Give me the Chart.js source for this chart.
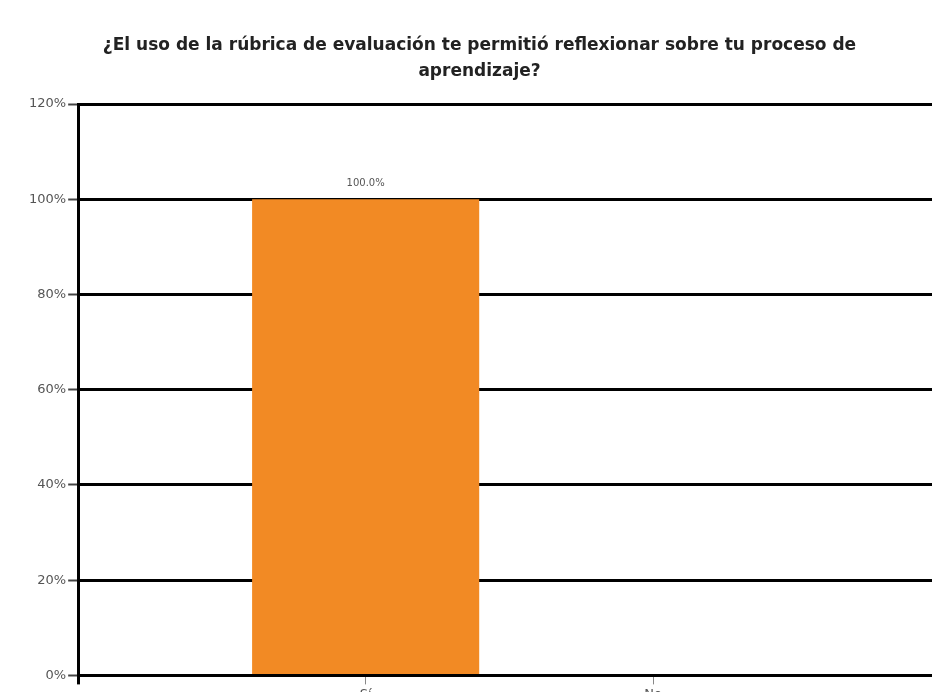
<!DOCTYPE html>
<html>
<head>
<meta charset="utf-8">
<script src="https://cdn.jsdelivr.net/npm/chart.js@4"></script>
<style>
  html, body { margin: 0; padding: 0; background: #fff; overflow: hidden; }
  #wrap { width: 932px; height: 704px; }
</style>
</head>
<body>
<div id="wrap"><canvas id="rubricBar" width="932" height="704"></canvas></div>
<script>
// Survey answers and their share of responses (%)
const categories = ['Sí', 'No'];
const percentages = [100, 0];
const yTicks = [0, 20, 40, 60, 80, 100, 120];
const titleLines = [
  '¿El uso de la rúbrica de evaluación te permitió reflexionar sobre tu proceso de',
  'aprendizaje?'
];

const rubricBarEl = document.getElementById('rubricBar');

// writes "100.0%" above every bar that has a value
const barValueLabels = {
  id: 'barValueLabels',
  afterDatasetsDraw(chart) {
    const ctx = chart.ctx;
    const meta = chart.getDatasetMeta(0);
    ctx.save();
    ctx.font = '10px "DejaVu Sans", Arial, sans-serif';
    ctx.fillStyle = '#555';
    ctx.textAlign = 'center';
    ctx.textBaseline = 'bottom';
    meta.data.forEach((bar, i) => {
      const v = percentages[i];
      if (v > 0) ctx.fillText(v.toFixed(1) + '%', bar.x, bar.y - 11);
    });
    ctx.restore();
  }
};

new Chart(rubricBarEl, {
  type: 'bar',
  data: {
    datasets: [{
      data: percentages.map((v, i) => ({ x: i + 1, y: v })),
      backgroundColor: '#F28A24',
      borderWidth: 0,
      barPercentage: 1,
      categoryPercentage: 0.79
    }]
  },
  plugins: [barValueLabels],
  options: {
    responsive: false,
    animation: false,
    layout: { padding: { left: 27, right: 0, top: 0, bottom: 0 } },
    plugins: {
      legend: { display: false },
      tooltip: { enabled: false },
      title: {
        display: true,
        text: titleLines,
        color: '#222',
        font: { family: '"DejaVu Sans", Arial, sans-serif', size: 17, weight: 'bold', lineHeight: 1.5 },
        padding: { top: 33, bottom: 20 }
      }
    },
    scales: {
      x: {
        type: 'linear',
        offset: false,
        min: 0,
        max: 2.97,
        afterBuildTicks: (scale) => {
          scale.ticks = [0, 1, 2].map(v => ({ value: v }));
        },
        ticks: {
          color: '#555',
          font: { family: '"DejaVu Sans", Arial, sans-serif', size: 13 },
          padding: 2,
          callback: (v) => categories[v - 1] || ''
        },
        grid: {
          offset: false,
          drawOnChartArea: false,
          drawTicks: true,
          tickLength: 9,
          color: (c) => c.tick && c.tick.value === 0 ? '#000' : '#888',
          lineWidth: (c) => c.tick && c.tick.value === 0 ? 3 : 1
        },
        border: { display: false }
      },
      y: {
        min: 0,
        max: 120,
        afterBuildTicks: (scale) => {
          scale.ticks = yTicks.map(v => ({ value: v }));
        },
        ticks: {
          color: '#555',
          font: { family: '"DejaVu Sans", Arial, sans-serif', size: 13 },
          padding: 2,
          callback: (v) => v + '%'
        },
        grid: {
          color: '#000',
          lineWidth: 3,
          tickLength: 10,
          tickColor: '#444',
          tickWidth: 2
        },
        border: { display: true, color: '#000', width: 3 }
      }
    }
  }
});
</script>
</body>
</html>
